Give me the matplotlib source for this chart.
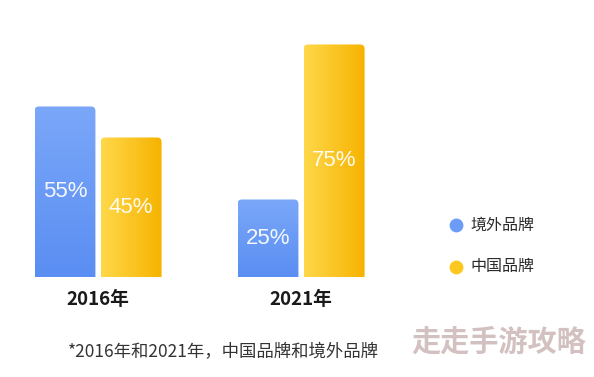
import numpy as np
import matplotlib
matplotlib.use("Agg")
import matplotlib.pyplot as plt
from matplotlib.patches import FancyBboxPatch

plt.rcParams["font.family"] = ["Noto Sans CJK SC", "DejaVu Sans"]

years = ["2016年", "2021年"]
foreign = [55, 25]
domestic = [45, 75]
series_names = ["境外品牌", "中国品牌"]
footnote = "*2016年和2021年，中国品牌和境外品牌"
watermark = "走走手游攻略"

BLUE_CMAP = matplotlib.colors.LinearSegmentedColormap.from_list("b", ["#7ba7f9", "#5a8ef2"])
GOLD_CMAP = matplotlib.colors.LinearSegmentedColormap.from_list("g", ["#ffd84a", "#f6b300"])

W, OFF = 0.30, 0.163
fig = plt.figure(figsize=(5.94, 3.77), dpi=100)
ax = fig.add_axes([0, 0, 1, 1])
ax.set_xlim(-0.483, 2.443)
ax.set_ylim(-32.26, 89.35)
ax.axis("off")

x = np.arange(len(years))


def gradient_bars(xs, vals, cmap, horizontal):
    bars = ax.bar(xs, vals, width=W, color="none")
    for b in bars:
        x0, y0 = b.get_x(), b.get_y()
        w, h = b.get_width(), b.get_height()
        # clip shape with rounded corners; extended below so the bottom stays square
        patch = FancyBboxPatch((x0, y0 - 5), w, h + 5,
                               boxstyle="round,pad=0,rounding_size=0.022",
                               mutation_aspect=65, facecolor="none", edgecolor="none")
        ax.add_patch(patch)
        grad = np.linspace(0, 1, 256)
        img = grad[None, :] if horizontal else grad[:, None]
        im = ax.imshow(img, cmap=cmap, aspect="auto", origin="upper",
                       extent=(x0, x0 + w, y0, y0 + h), zorder=2)
        im.set_clip_path(patch)
    return bars


gradient_bars(x - OFF, foreign, BLUE_CMAP, horizontal=False)
gradient_bars(x + OFF, domestic, GOLD_CMAP, horizontal=True)

for xs, vals in [(x - OFF, foreign), (x + OFF, domestic)]:
    for xi, v in zip(xs, vals):
        ax.text(xi, v / 2, f"{v}%", ha="center", va="center", color="white",
                fontsize=16, alpha=0.93, zorder=3,
                family=["Liberation Sans", "DejaVu Sans"])

for xi, lab in zip(x, years):
    ax.text(xi, -7.2, lab, ha="center", va="center", fontsize=13.5,
            fontweight="bold", color="#1a1a1a")

# legend
for fy, name, col in [(0.402, series_names[0], "#6b9cf6"), (0.292, series_names[1], "#fcc820")]:
    ax.scatter([456 / 594], [fy], s=80, color=col, transform=fig.transFigure,
               clip_on=False, zorder=3)
    fig.text(470 / 594, fy, name, ha="left", va="center", fontsize=11.5,
             color="#2a2a2a", fontweight="medium")

fig.text(68 / 594, 1 - 352 / 377, footnote, ha="left", va="center",
         fontsize=12.5, color="#333333")
fig.text(586 / 594, 1 - 342 / 377, watermark, ha="right", va="center",
         fontsize=21, fontweight="heavy", color="#d3c0c0")

fig.savefig("out.png", dpi=100, facecolor="white")
